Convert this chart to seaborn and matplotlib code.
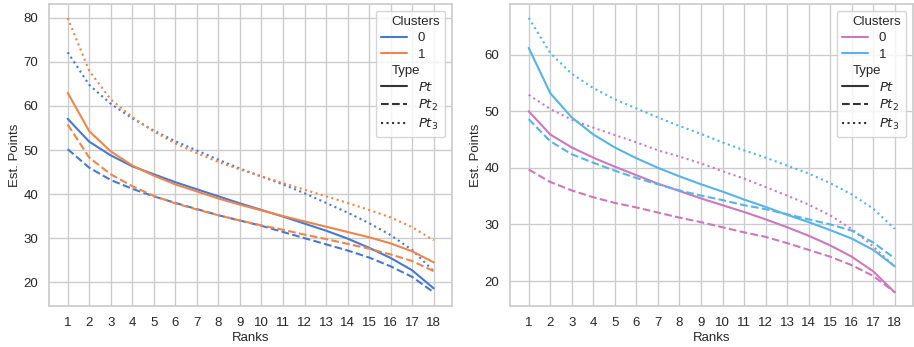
import numpy as np
import pandas as pd
import matplotlib
matplotlib.use("Agg")
import matplotlib.pyplot as plt
import seaborn as sns

ranks = list(range(1, 19))

# Left panel
L_c0_pt  = [57.1, 51.9, 48.8, 46.3, 44.5, 42.7, 41.1, 39.5, 37.9, 36.4, 34.9, 33.3, 31.7, 29.9, 27.8, 25.5, 22.7, 18.6]
L_c1_pt  = [63.0, 54.3, 49.7, 46.5, 44.2, 42.2, 40.6, 39.0, 37.6, 36.3, 35.0, 33.8, 32.6, 31.4, 30.2, 28.8, 27.0, 24.5]
L_c0_pt2 = [50.2, 46.0, 43.2, 41.2, 39.5, 38.0, 36.6, 35.2, 34.0, 32.8, 31.4, 30.0, 28.6, 27.2, 25.6, 23.6, 21.2, 17.7]
L_c1_pt2 = [55.8, 48.3, 44.5, 41.8, 39.6, 37.9, 36.5, 35.2, 34.0, 32.9, 31.9, 30.8, 29.8, 28.7, 27.6, 26.3, 24.8, 22.5]
L_c0_pt3 = [72.2, 64.8, 60.5, 57.2, 54.4, 52.0, 49.9, 47.8, 45.8, 44.0, 42.2, 40.2, 38.0, 35.8, 33.4, 30.7, 27.3, 22.5]
L_c1_pt3 = [80.0, 68.0, 61.5, 57.5, 54.2, 51.5, 49.3, 47.3, 45.6, 44.0, 42.5, 41.0, 39.5, 38.0, 36.4, 34.7, 32.5, 29.5]

# Right panel
R_c0_pt  = [50.0, 45.9, 43.6, 41.8, 40.2, 38.7, 37.2, 35.9, 34.6, 33.4, 32.2, 30.9, 29.5, 28.0, 26.3, 24.3, 21.7, 18.0]
R_c1_pt  = [61.2, 53.2, 48.9, 45.9, 43.6, 41.7, 40.0, 38.5, 37.1, 35.8, 34.4, 33.1, 31.7, 30.4, 29.0, 27.5, 25.5, 22.6]
R_c0_pt2 = [39.7, 37.5, 36.0, 34.8, 33.8, 33.0, 32.1, 31.2, 30.4, 29.5, 28.6, 27.8, 26.7, 25.5, 24.3, 22.8, 20.9, 18.0]
R_c1_pt2 = [48.6, 44.7, 42.4, 40.9, 39.5, 38.2, 37.1, 36.0, 35.1, 34.3, 33.4, 32.7, 31.8, 30.9, 30.0, 28.9, 26.8, 24.0]
R_c0_pt3 = [52.9, 50.4, 48.5, 47.1, 45.8, 44.5, 43.1, 42.0, 40.8, 39.4, 38.1, 36.6, 35.1, 33.5, 31.6, 29.2, 26.1, 22.5]
R_c1_pt3 = [66.5, 60.3, 56.6, 54.1, 52.1, 50.5, 48.9, 47.4, 46.0, 44.5, 43.1, 41.8, 40.4, 39.0, 37.3, 35.3, 32.8, 29.2]

type_labels = ["$Pt$", "$Pt_2$", "$Pt_3$"]
cluster_labels = ["0", "1"]
subtitles = ("Clusters", "Type")


def build(series):
    rows = []
    for (cl, ty), vals in series.items():
        for r, v in zip(ranks, vals):
            rows.append({"Ranks": r, "Est. Points": v, "Clusters": cl, "Type": ty})
    return pd.DataFrame(rows)


df_left = build({
    ("0", type_labels[0]): L_c0_pt, ("1", type_labels[0]): L_c1_pt,
    ("0", type_labels[1]): L_c0_pt2, ("1", type_labels[1]): L_c1_pt2,
    ("0", type_labels[2]): L_c0_pt3, ("1", type_labels[2]): L_c1_pt3,
})
df_right = build({
    ("0", type_labels[0]): R_c0_pt, ("1", type_labels[0]): R_c1_pt,
    ("0", type_labels[1]): R_c0_pt2, ("1", type_labels[1]): R_c1_pt2,
    ("0", type_labels[2]): R_c0_pt3, ("1", type_labels[2]): R_c1_pt3,
})

sns.set_theme(style="whitegrid")
plt.rcParams["font.family"] = ["Liberation Sans", "DejaVu Sans"]
plt.rcParams["mathtext.fontset"] = "dejavusans"
plt.rcParams["font.size"] = 9.5
plt.rcParams["legend.fontsize"] = 9.5
plt.rcParams["legend.labelspacing"] = 0.3

fig, axes = plt.subplots(1, 2, figsize=(9.14, 3.47), dpi=100)
fig.subplots_adjust(left=0.054, right=0.999, bottom=0.118, top=0.988, wspace=0.145)

dashes = ["", (3.7, 1.6), (1, 1.65)]
palettes = [
    {"0": "#4878d0", "1": "#ee854a"},
    {"0": "#cc78bc", "1": "#56b4e9"},
]

for ax, df, pal in zip(axes, [df_left, df_right], palettes):
    sns.lineplot(data=df, x="Ranks", y="Est. Points", hue="Clusters", style="Type",
                 hue_order=cluster_labels, style_order=type_labels,
                 palette=pal, dashes=dashes, linewidth=1.5, ax=ax)
    ax.set_xticks(ranks)
    ax.tick_params(labelsize=9.5, pad=2)
    ax.set_xlabel("Ranks", fontsize=9.5, labelpad=2)
    ax.set_ylabel("Est. Points", fontsize=9.5, labelpad=2)
    leg = ax.get_legend()
    leg.set_loc("upper right")
    # make subtitle entries sit like titles (no handle space)
    for col in leg._legend_handle_box.get_children():
        for row in col.get_children():
            da, ta = row.get_children()
            if ta.get_text() in subtitles:
                da.set_width(0)
                for art in da.get_children():
                    art.set_visible(False)

fig.savefig("out.png", dpi=100)
